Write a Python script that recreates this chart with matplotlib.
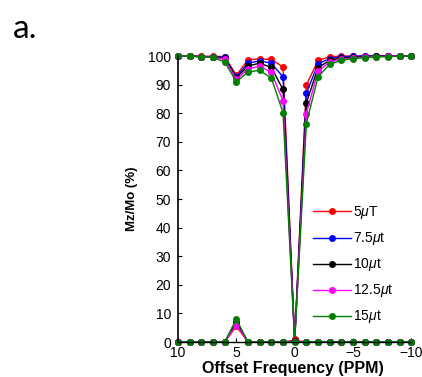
import numpy as np
import matplotlib
matplotlib.use("Agg")
from matplotlib import pyplot as plt

plt.rcParams['font.family'] = ['Liberation Sans', 'DejaVu Sans']
plt.rcParams['mathtext.fontset'] = 'custom'
plt.rcParams['mathtext.it'] = 'Liberation Sans:italic'

# offset frequency in ppm
offset = [10, 9, 8, 7, 6, 5, 4, 3, 2, 1, 0, -1, -2, -3, -4, -5, -6, -7, -8, -9, -10]

labels = ["5$\\mu$T", "7.5$\\mu$t", "10$\\mu$t", "12.5$\\mu$t", "15$\\mu$t"]
colors = ["red", "blue", "black", "magenta", "green"]

# Z-spectra (Mz/Mo %)
z_5 = [100, 100, 99.9, 99.9, 99.8, 93.3, 98.7, 99.0, 98.8, 96.2, 1.0,
       89.8, 98.5, 99.7, 100, 100, 100, 100, 100, 100, 100]
z_75 = [100, 100, 99.8, 99.8, 99.5, 92.8, 97.5, 98.3, 97.5, 92.7, 0.5,
        86.9, 97.3, 99.1, 99.7, 99.9, 100, 100, 100, 100, 100]
z_10 = [100, 100, 99.8, 99.7, 99.2, 92.4, 96.5, 97.5, 96.0, 88.3, 0.4,
        83.6, 95.9, 98.5, 99.3, 99.6, 99.8, 99.9, 100, 100, 100]
z_125 = [100, 100, 99.7, 99.6, 98.8, 91.8, 95.5, 96.5, 94.3, 84.3, 0.3,
         79.9, 94.7, 97.9, 98.9, 99.3, 99.6, 99.8, 99.9, 100, 100]
z_15 = [100, 100, 99.6, 99.5, 97.9, 91.0, 94.4, 95.0, 92.3, 80.2, 0.2,
        76.4, 92.7, 97.1, 98.5, 99.1, 99.4, 99.7, 99.8, 99.9, 100]

# asymmetry curves
a_5 = [0, 0, 0, 0, 0, 5.5, 0, 0, 0, 0, 0.6, 0, 0, 0, 0, 0, 0, 0, 0, 0, 0]
a_75 = [0, 0, 0, 0, 0, 6.5, 0, 0, 0, 0, 0.3, 0, 0, 0, 0, 0, 0, 0, 0, 0, 0]
a_10 = [0, 0, 0, 0, 0, 7.0, 0, 0, 0, 0, 0.2, 0, 0, 0, 0, 0, 0, 0, 0, 0, 0]
a_125 = [0, 0, 0, 0, 0, 6.0, 0, 0, 0, 0, 0.1, 0, 0, 0, 0, 0, 0, 0, 0, 0, 0]
a_15 = [0, 0, 0, 0, 0, 8.0, 0, 0, 0, 0, 0, 0, 0, 0, 0, 0, 0, 0, 0, 0, 0]

zspec = [z_5, z_75, z_10, z_125, z_15]
asym = [a_5, a_75, a_10, a_125, a_15]

fig = plt.figure(figsize=(4.22, 3.77), dpi=100)
ax = fig.add_axes([0.4218, 0.0928, 0.553, 0.7586])

for z, c, lab in zip(zspec, colors, labels):
    ax.plot(offset, z, '-o', color=c, lw=1, ms=4, label=lab)
for a, c in zip(asym, colors):
    ax.plot(offset, a, '-o', color=c, lw=1, ms=4)

ax.set_xlim(10, -10)
ax.set_ylim(0, 100)
ax.set_xticks([10, 5, 0, -5, -10])
ax.set_yticks(np.arange(0, 101, 10))
ax.tick_params(direction="in", length=3, labelsize=10)
ax.tick_params(axis="x", pad=3)
ax.tick_params(axis="y", pad=5)
for s in ["top", "right"]:
    ax.spines[s].set_visible(False)
ax.spines["left"].set_linewidth(1.2)
ax.spines["bottom"].set_linewidth(1.0)
for l in ax.lines:
    l.set_clip_on(False)

ax.set_xlabel("Offset Frequency (PPM)", fontsize=11.5, fontweight="bold")
ax.xaxis.set_label_coords(0.494, -0.094)
ax.xaxis.label.set_va("center")
ax.set_ylabel("Mz/Mo (%)", fontsize=9.5, fontweight="bold", labelpad=7)

ax.legend(loc="upper left", bbox_to_anchor=(0.742, 0.458), bbox_transform=fig.transFigure,
          frameon=False, fontsize=10, handlelength=2.7, handletextpad=0.2,
          labelspacing=0.65, borderpad=0, borderaxespad=0)

fig.text(0.03, 0.9, "a.", fontsize=24, family=["Lato", "DejaVu Sans"])

plt.savefig("out.png", dpi=100)
